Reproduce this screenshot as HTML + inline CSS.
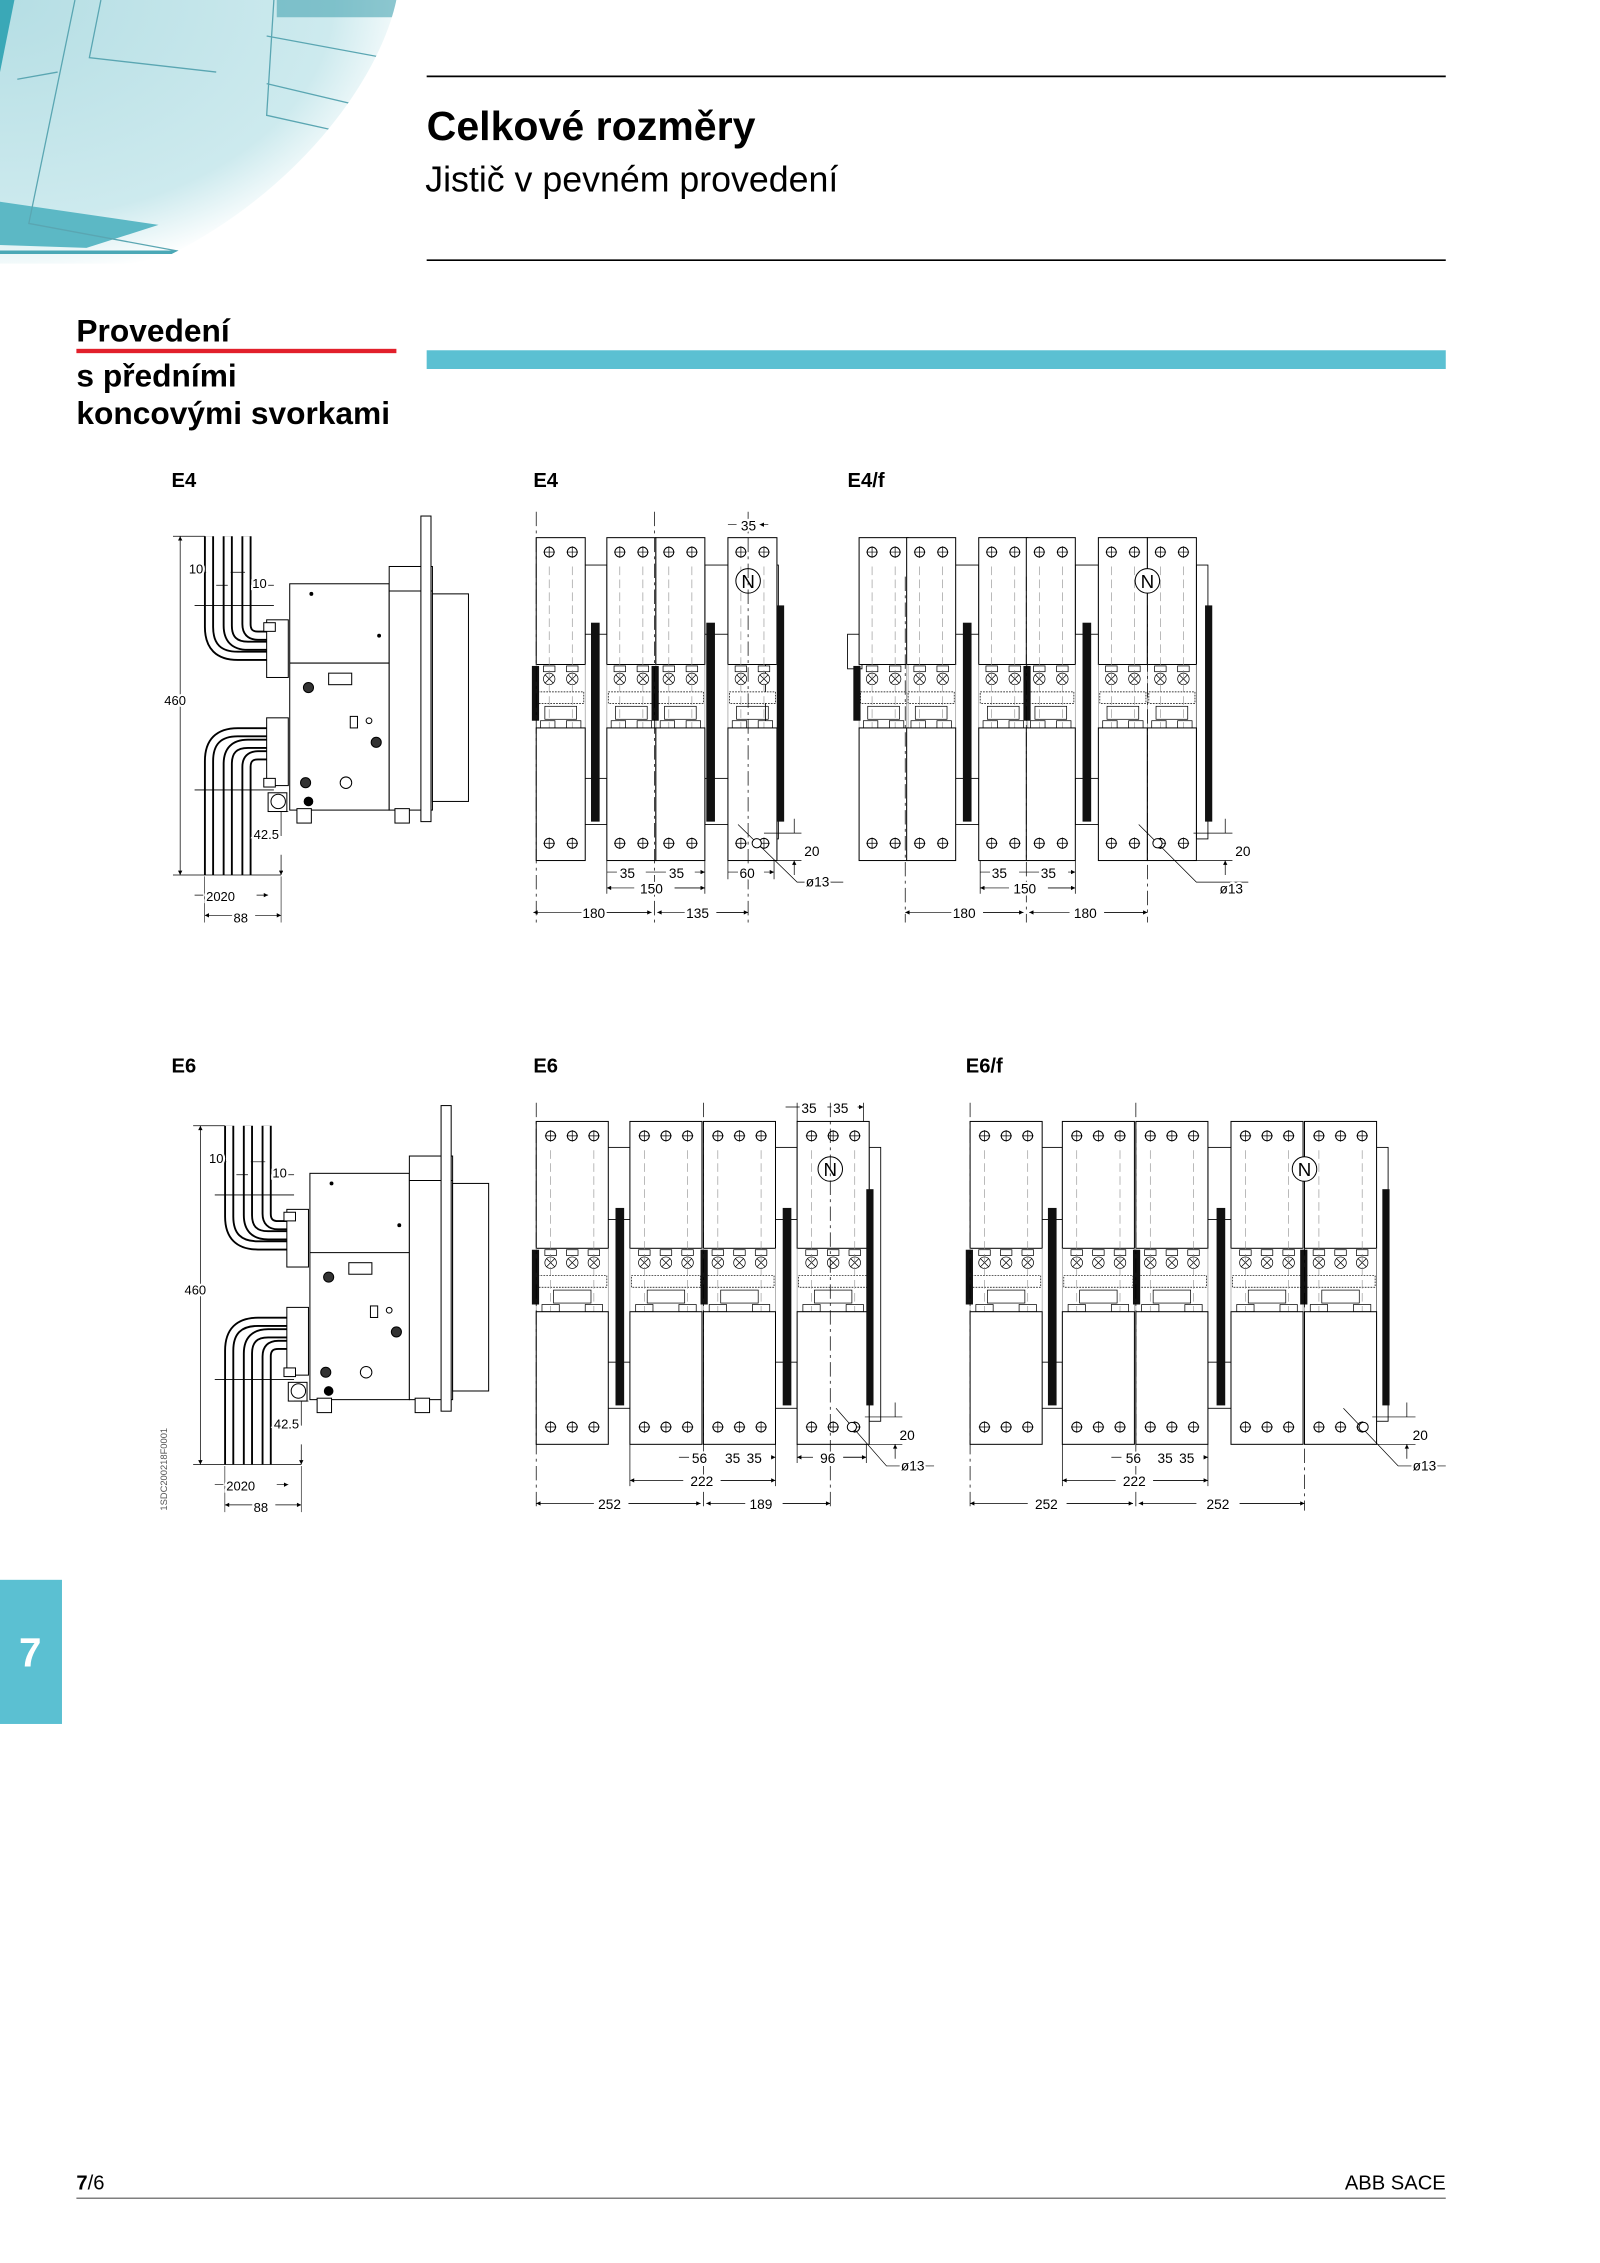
<!DOCTYPE html>
<html><head><meta charset="utf-8"><style>html,body{margin:0;padding:0;background:#fff}svg{display:block}</style></head>
<body>
<svg width="1600" height="2263" viewBox="0 0 1600 2263" xmlns="http://www.w3.org/2000/svg" font-family="Liberation Sans, Arial, sans-serif">
<defs>
<radialGradient id="bg" cx="0" cy="0" r="1.1" gradientUnits="objectBoundingBox">
<stop offset="0" stop-color="#b5dee4"/><stop offset="0.75" stop-color="#cdeaee"/><stop offset="0.95" stop-color="#ffffff"/></radialGradient>
<clipPath id="ic"><path d="M0 0H275C262 60 200 140 105 183H0Z"/></clipPath>
<marker id="a" viewBox="0 0 6 6" refX="6" refY="3" markerWidth="4" markerHeight="3" markerUnits="userSpaceOnUse" orient="auto-start-reverse"><path d="M0,0L6,3L0,6z" fill="#000"/></marker>
<g id="hole"><circle r="3.4" fill="#fff" stroke="#000" stroke-width="0.7"/><path d="M-4 0H4M0 -4V4" stroke="#000" stroke-width="0.5"/></g>
<g id="mid" stroke="#000" stroke-width="0.5" fill="#fff">
<rect x="-4" y="0" width="8" height="4"/><circle cy="9" r="4"/><path d="M-3 6L3 12M-3 12L3 6"/>
</g>
<g id="p2">
<rect x="0" y="0" width="34" height="88" fill="#fff" stroke="#000" stroke-width="0.7"/>
<use href="#hole" x="9" y="10"/><use href="#hole" x="25" y="10"/>
<path d="M0 88V132M34 88V132" stroke="#999" stroke-width="0.5"/>
<use href="#mid" x="9" y="89"/><use href="#mid" x="25" y="89"/>
<rect x="1" y="107" width="32" height="8" fill="#fff" stroke="#000" stroke-width="0.5" stroke-dasharray="1.2 0.8"/>
<rect x="6" y="117" width="22" height="9" fill="none" stroke="#000" stroke-width="0.5"/>
<rect x="3" y="127" width="10" height="5" fill="#fff" stroke="#000" stroke-width="0.5"/><rect x="21" y="127" width="10" height="5" fill="#fff" stroke="#000" stroke-width="0.5"/>
<path d="M9 20V200M25 20V200" stroke="#888" stroke-width="0.4" stroke-dasharray="6 3"/>
<rect x="0" y="132" width="34" height="92" fill="#fff" stroke="#000" stroke-width="0.7"/>
<use href="#hole" x="9" y="212"/><use href="#hole" x="25" y="212"/>
</g>
<g id="p3">
<rect x="0" y="0" width="50" height="88" fill="#fff" stroke="#000" stroke-width="0.7"/>
<use href="#hole" x="10" y="10"/><use href="#hole" x="25" y="10"/><use href="#hole" x="40" y="10"/>
<path d="M0 88V132M50 88V132" stroke="#999" stroke-width="0.5"/>
<use href="#mid" x="10" y="89"/><use href="#mid" x="25" y="89"/><use href="#mid" x="40" y="89"/>
<rect x="1" y="107" width="48" height="8" fill="#fff" stroke="#000" stroke-width="0.5" stroke-dasharray="1.2 0.8"/>
<rect x="12" y="117" width="26" height="9" fill="none" stroke="#000" stroke-width="0.5"/>
<rect x="4" y="127" width="12" height="5" fill="#fff" stroke="#000" stroke-width="0.5"/><rect x="34" y="127" width="12" height="5" fill="#fff" stroke="#000" stroke-width="0.5"/>
<path d="M10 20V200M40 20V200" stroke="#888" stroke-width="0.4" stroke-dasharray="6 3"/>
<rect x="0" y="132" width="50" height="92" fill="#fff" stroke="#000" stroke-width="0.7"/>
<use href="#hole" x="10" y="212"/><use href="#hole" x="25" y="212"/><use href="#hole" x="40" y="212"/>
</g>
<g id="side" stroke="#000" stroke-width="0.7" fill="none">
<g stroke-width="7"><path d="M145 372V435Q145 455 165 455H200"/><path d="M158 372V434Q158 448 172 448H200"/><path d="M171 372V433Q171 441 179 441H200"/></g>
<g stroke="#fff" stroke-width="4.4"><path d="M145 372V435Q145 455 165 455H200"/><path d="M158 372V434Q158 448 172 448H200"/><path d="M171 372V433Q171 441 179 441H200"/></g>
<g stroke-width="7"><path d="M145 607V528Q145 508 165 508H200"/><path d="M158 607V530Q158 516 172 516H200"/><path d="M171 607V532Q171 524 179 524H200"/></g>
<g stroke="#fff" stroke-width="4.4"><path d="M145 607V528Q145 508 165 508H200"/><path d="M158 607V530Q158 516 172 516H200"/><path d="M171 607V532Q171 524 179 524H200"/></g>
<path d="M135 420H190M135 548H190" stroke-width="0.6"/>
<rect x="185" y="430" width="15" height="40" fill="#fff"/><rect x="185" y="498" width="15" height="47" fill="#fff"/>
<rect x="183" y="432" width="8" height="6" fill="#fff"/><rect x="183" y="540" width="8" height="6" fill="#fff"/>
<rect x="201" y="405" width="69" height="157" fill="#fff"/><path d="M201 460H270"/>
<rect x="270" y="393" width="30" height="169" fill="#fff"/><path d="M270 410H300"/>
<rect x="292" y="358" width="7" height="212" fill="#fff"/>
<rect x="300" y="412" width="25" height="144" fill="#fff"/>
<rect x="228" y="467" width="16" height="8"/>
<circle cx="214" cy="477" r="3.5" fill="#333"/><circle cx="261" cy="515" r="3.5" fill="#333"/><circle cx="212" cy="543" r="3.5" fill="#333"/>
<circle cx="214" cy="556" r="3" fill="#000"/><rect x="243" y="497" width="5" height="8"/><circle cx="256" cy="500" r="2"/><circle cx="240" cy="543" r="4"/>
<circle cx="193" cy="556" r="5" fill="#fff"/><rect x="186" y="550" width="13" height="13"/>
<rect x="206" y="561" width="10" height="10" fill="#fff"/><rect x="274" y="561" width="10" height="10" fill="#fff"/>
<circle cx="216" cy="412" r="1" fill="#000"/><circle cx="263" cy="441" r="1" fill="#000"/>
<path d="M120 372H142M120 607H195" stroke-width="0.5"/>
<path d="M125 372V607" stroke-width="0.5" marker-start="url(#a)" marker-end="url(#a)"/>
<path d="M132 397H143M160 397H170M150 406H158M174 406H190" stroke-width="0.5"/>
<path d="M195 563V580M195 593V607" stroke-width="0.5" marker-end="url(#a)"/>
<path d="M190 563H200" stroke-width="0.5"/>
<path d="M135 621H141M178 621H186" stroke-width="0.5" marker-end="url(#a)"/>
<path d="M142 608V640M195 608V640" stroke-width="0.4"/>
<path d="M142 635H164M177 635H195" stroke-width="0.5" marker-start="url(#a)" marker-end="url(#a)"/>
</g>
</defs>

<g transform="scale(1.44144)">
<g clip-path="url(#ic)">
<rect width="280" height="185" fill="url(#bg)"/>
<path d="M0 0H10L0 50Z" fill="#3aa8b7"/>
<path d="M0 140L110 156L60 172L0 170Z" fill="#5cb8c5"/>
<path d="M190 0L185 80L320 110M52 0L20 155L290 205M12 55L40 50M70 0L62 40L150 50M185 58L320 90M185 25L320 50" stroke="#5aa6b2" stroke-width="0.9" fill="none"/>
<path d="M192 0H330V12H192Z" fill="#4aa5b3" opacity="0.6"/>
<path d="M0 175H160" stroke="#4aa8b6" stroke-width="2.5"/>
</g>

<path d="M296 53H1003M296 180.5H1003" stroke="#000" stroke-width="1.2"/>
<text x="296" y="97" font-size="28.5" font-weight="bold">Celkové rozměry</text>
<text x="295" y="133" font-size="24.8">Jistič v pevném provedení</text>
<text x="53" y="237" font-size="22" font-weight="bold">Provedení</text>
<rect x="53" y="242" width="222" height="3" fill="#e2202b"/>
<text x="53" y="268" font-size="22" font-weight="bold">s předními</text>
<text x="53" y="294" font-size="22" font-weight="bold">koncovými svorkami</text>
<rect x="296" y="243" width="707" height="13" fill="#5bc0d2"/>

<g font-size="14" font-weight="bold">
<text x="119" y="338">E4</text><text x="370" y="338">E4</text><text x="588" y="338">E4/f</text>
<text x="119" y="744">E6</text><text x="370" y="744">E6</text><text x="670" y="744">E6/f</text>
</g>

<use href="#side"/>
<use href="#side" transform="translate(14,409)"/>
<g font-size="9" paint-order="stroke" stroke="#fff" stroke-width="3">
<text x="131" y="398">10</text><text x="175" y="408">10</text><text x="114" y="489">460</text><text x="176" y="582">42.5</text><text x="143" y="625">2020</text><text x="162" y="640">88</text>
<text x="145" y="807">10</text><text x="189" y="817">10</text><text x="128" y="898">460</text><text x="190" y="991">42.5</text><text x="157" y="1034">2020</text><text x="176" y="1049">88</text>
</g>
<text transform="translate(116,1048) rotate(-90)" font-size="6.5" fill="#555">1SDC200218F0001</text>

<g stroke="#000" stroke-width="0.6" fill="#fff">
<rect x="405" y="392" width="16" height="48"/><rect x="489" y="392" width="16" height="48"/><rect x="531" y="392" width="9" height="190"/>
<rect x="405" y="540" width="16" height="32"/><rect x="489" y="540" width="16" height="32"/>
</g>
<use href="#p2" x="372" y="373"/><use href="#p2" x="421" y="373"/><use href="#p2" x="455" y="373"/><use href="#p2" x="505" y="373"/>
<g fill="#111"><rect x="410" y="432" width="6" height="138"/><rect x="490" y="432" width="6" height="138"/><rect x="539" y="420" width="5" height="150"/><rect x="369" y="462" width="5" height="38"/><rect x="452" y="462" width="5" height="38"/></g>
<circle cx="519" cy="403" r="8.5" fill="#fff" stroke="#000" stroke-width="0.7"/><text x="519" y="408" font-size="13" text-anchor="middle">N</text>
<path d="M372 355V640M454 355V640M519 355V640" stroke="#000" stroke-width="0.5" stroke-dasharray="10 3 2 3"/>
<g stroke="#000" stroke-width="0.5" fill="none">
<path d="M505 364H511M533 364H527" marker-end="url(#a)"/>
<path d="M421 605H428M448 605H455M455 605H462M482 605H489" marker-end="url(#a)"/>
<path d="M421 616H440M468 616H489" marker-start="url(#a)"/><path d="M468 616H489" marker-end="url(#a)"/>
<path d="M505 605H512M530 605H537" marker-end="url(#a)"/>
<path d="M370 633H405M420 633H452" marker-start="url(#a)"/><path d="M420 633H452" marker-end="url(#a)"/>
<path d="M456 633H475M497 633H519" marker-start="url(#a)"/><path d="M497 633H519" marker-end="url(#a)"/>
<path d="M421 597V620M489 597V620M505 597V610M537 597V610"/>
<path d="M530 578H556M530 597H556M551 568V578M551 607V597" marker-end="url(#a)"/>
<path d="M512 572L553 612H585"/>
</g>
<circle cx="525" cy="585" r="3.2" fill="#fff" stroke="#000" stroke-width="0.7"/>
<g font-size="9.5" paint-order="stroke" stroke="#fff" stroke-width="3">
<text x="514" y="368">35</text><text x="430" y="609">35</text><text x="464" y="609">35</text><text x="444" y="620">150</text><text x="513" y="609">60</text>
<text x="404" y="637">180</text><text x="476" y="637">135</text><text x="558" y="594">20</text><text x="559" y="615">ø13</text>
</g>

<g stroke="#000" stroke-width="0.6" fill="#fff">
<rect x="588" y="440" width="10" height="24"/>
<rect x="662" y="392" width="17" height="48"/><rect x="746" y="392" width="16" height="48"/><rect x="830" y="392" width="8" height="190"/>
<rect x="662" y="540" width="17" height="32"/><rect x="746" y="540" width="16" height="32"/>
</g>
<use href="#p2" x="596" y="373"/><use href="#p2" x="629" y="373"/><use href="#p2" x="679" y="373"/><use href="#p2" x="712" y="373"/><use href="#p2" x="762" y="373"/><use href="#p2" x="796" y="373"/>
<g fill="#111"><rect x="668" y="432" width="6" height="138"/><rect x="751" y="432" width="6" height="138"/><rect x="836" y="420" width="5" height="150"/><rect x="592" y="462" width="5" height="38"/><rect x="710" y="462" width="5" height="38"/></g>
<circle cx="796" cy="403" r="8.5" fill="#fff" stroke="#000" stroke-width="0.7"/><text x="796" y="408" font-size="13" text-anchor="middle">N</text>
<path d="M628 400V640M712 400V640M796 420V640" stroke="#000" stroke-width="0.5" stroke-dasharray="10 3 2 3"/>
<g stroke="#000" stroke-width="0.5" fill="none">
<path d="M680 605H687M707 605H713M713 605H721M741 605H746" marker-end="url(#a)"/>
<path d="M680 616H700M727 616H746" marker-start="url(#a)"/><path d="M727 616H746" marker-end="url(#a)"/>
<path d="M628 633H660M682 633H710" marker-start="url(#a)"/><path d="M682 633H710" marker-end="url(#a)"/>
<path d="M714 633H742M766 633H796" marker-start="url(#a)"/><path d="M766 633H796" marker-end="url(#a)"/>
<path d="M680 597V620M746 597V620"/>
<path d="M828 578H855M828 597H855M850 568V578M850 607V597" marker-end="url(#a)"/>
<path d="M790 572L830 612H866"/>
</g>
<circle cx="803" cy="585" r="3.2" fill="#fff" stroke="#000" stroke-width="0.7"/>
<g font-size="9.5" paint-order="stroke" stroke="#fff" stroke-width="3">
<text x="688" y="609">35</text><text x="722" y="609">35</text><text x="703" y="620">150</text>
<text x="661" y="637">180</text><text x="745" y="637">180</text><text x="857" y="594">20</text><text x="846" y="620">ø13</text>
</g>

<g stroke="#000" stroke-width="0.6" fill="#fff">
<rect x="421" y="796" width="16" height="50"/><rect x="538" y="796" width="15" height="50"/><rect x="603" y="796" width="8" height="190"/>
<rect x="421" y="945" width="16" height="32"/><rect x="538" y="945" width="15" height="32"/>
</g>
<use href="#p3" x="372" y="778"/><use href="#p3" x="437" y="778"/><use href="#p3" x="488" y="778"/><use href="#p3" x="553" y="778"/>
<g fill="#111"><rect x="427" y="838" width="6" height="137"/><rect x="543" y="838" width="6" height="137"/><rect x="601" y="825" width="5" height="150"/><rect x="369" y="867" width="5" height="38"/><rect x="486" y="867" width="5" height="38"/></g>
<circle cx="576" cy="811" r="8.5" fill="#fff" stroke="#000" stroke-width="0.7"/><text x="576" y="816" font-size="13" text-anchor="middle">N</text>
<path d="M372 765V1048M488 765V1048M576 765V1048" stroke="#000" stroke-width="0.5" stroke-dasharray="10 3 2 3"/>
<g stroke="#000" stroke-width="0.5" fill="none">
<path d="M545 768H553M553 768H562M574 768H576M576 768H587M595 768H599" marker-end="url(#a)"/>
<path d="M553 765V778M599 765V778"/>
<path d="M471 1011H478M505 1011H506M520 1011H521M535 1011H538" marker-end="url(#a)"/>
<path d="M437 1027H474M500 1027H538" marker-start="url(#a)"/><path d="M500 1027H538" marker-end="url(#a)"/>
<path d="M553 1011H564M585 1011H601" marker-start="url(#a)"/><path d="M585 1011H601" marker-end="url(#a)"/>
<path d="M372 1043H412M436 1043H486" marker-start="url(#a)"/><path d="M436 1043H486" marker-end="url(#a)"/>
<path d="M490 1043H517M543 1043H576" marker-start="url(#a)"/><path d="M543 1043H576" marker-end="url(#a)"/>
<path d="M437 1002V1031M538 1002V1031M553 1002V1015M601 1002V1015"/>
<path d="M600 983H626M600 1002H626M621 973V983M621 1012V1002" marker-end="url(#a)"/>
<path d="M580 977L615 1017H648"/>
</g>
<circle cx="591" cy="990" r="3.2" fill="#fff" stroke="#000" stroke-width="0.7"/>
<g font-size="9.5" paint-order="stroke" stroke="#fff" stroke-width="3">
<text x="556" y="772">35</text><text x="578" y="772">35</text>
<text x="480" y="1015">56</text><text x="503" y="1015">35</text><text x="518" y="1015">35</text><text x="479" y="1031">222</text><text x="569" y="1015">96</text>
<text x="415" y="1047">252</text><text x="520" y="1047">189</text><text x="624" y="999">20</text><text x="625" y="1020">ø13</text>
</g>

<g stroke="#000" stroke-width="0.6" fill="#fff">
<rect x="721" y="796" width="16" height="50"/><rect x="838" y="796" width="16" height="50"/><rect x="955" y="796" width="8" height="190"/>
<rect x="721" y="945" width="16" height="32"/><rect x="838" y="945" width="16" height="32"/>
</g>
<use href="#p3" x="673" y="778"/><use href="#p3" x="737" y="778"/><use href="#p3" x="788" y="778"/><use href="#p3" x="854" y="778"/><use href="#p3" x="905" y="778"/>
<g fill="#111"><rect x="727" y="838" width="6" height="137"/><rect x="844" y="838" width="6" height="137"/><rect x="959" y="825" width="5" height="150"/><rect x="670" y="867" width="5" height="38"/><rect x="786" y="867" width="5" height="38"/><rect x="902" y="867" width="5" height="38"/></g>
<circle cx="905" cy="811" r="8.5" fill="#fff" stroke="#000" stroke-width="0.7"/><text x="905" y="816" font-size="13" text-anchor="middle">N</text>
<path d="M673 765V1048M788 765V1048M905 825V1048" stroke="#000" stroke-width="0.5" stroke-dasharray="10 3 2 3"/>
<g stroke="#000" stroke-width="0.5" fill="none">
<path d="M771 1011H778M805 1011H806M820 1011H821M835 1011H838" marker-end="url(#a)"/>
<path d="M737 1027H774M800 1027H838" marker-start="url(#a)"/><path d="M800 1027H838" marker-end="url(#a)"/>
<path d="M673 1043H713M740 1043H786" marker-start="url(#a)"/><path d="M740 1043H786" marker-end="url(#a)"/>
<path d="M790 1043H830M860 1043H905" marker-start="url(#a)"/><path d="M860 1043H905" marker-end="url(#a)"/>
<path d="M737 1002V1031M838 1002V1031"/>
<path d="M952 983H982M952 1002H982M976 973V983M976 1012V1002" marker-end="url(#a)"/>
<path d="M932 977L970 1017H1003"/>
</g>
<circle cx="946" cy="990" r="3.2" fill="#fff" stroke="#000" stroke-width="0.7"/>
<g font-size="9.5" paint-order="stroke" stroke="#fff" stroke-width="3">
<text x="781" y="1015">56</text><text x="803" y="1015">35</text><text x="818" y="1015">35</text><text x="779" y="1031">222</text>
<text x="718" y="1047">252</text><text x="837" y="1047">252</text><text x="980" y="999">20</text><text x="980" y="1020">ø13</text>
</g>

<rect x="0" y="1096" width="43" height="100" fill="#5bc0d2"/>
<text x="21" y="1156" font-size="28" font-weight="bold" fill="#fff" text-anchor="middle">7</text>

<text x="53" y="1519" font-size="14"><tspan font-weight="bold">7</tspan>/6</text>
<text x="1003" y="1519" font-size="14" text-anchor="end">ABB SACE</text>
<path d="M53 1525H1003" stroke="#555" stroke-width="0.8"/>
</g>
</svg>
</body></html>
